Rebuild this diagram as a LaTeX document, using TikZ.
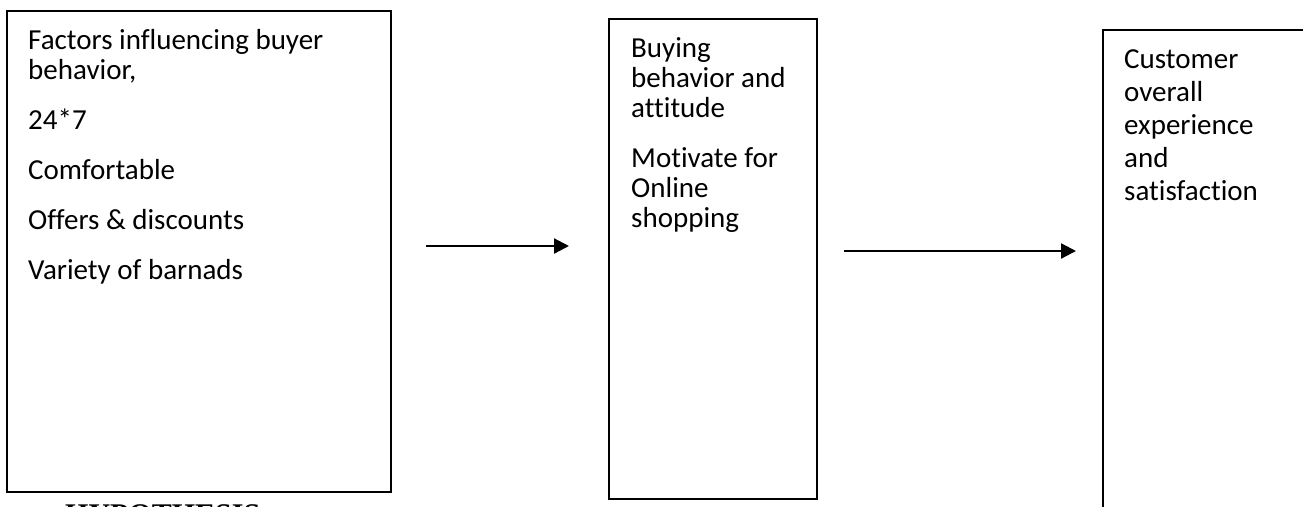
\documentclass[tikz,border=0pt]{standalone}
\usepackage{fontspec}
\setmainfont{Carlito}[Ligatures=CommonOff]
\newfontfamily\hypfont{Liberation Serif}
\usetikzlibrary{arrows.meta,positioning}
\newcommand{\paneltext}[1]{\parbox[t]{340pt}{\raggedright #1}}

\begin{document}
\begin{tikzpicture}[
    x=1pt, y=-1pt,
    panel/.style={
        draw,
        line width=1.8pt,
        anchor=north west,
        inner sep=0pt
    },
    txt/.style={anchor=base west, inner sep=0pt, font=\fontsize{29}{30}\selectfont},
    arrow/.style={-{Triangle[length=15pt,width=15pt]}, line width=2.2pt}
]
\useasboundingbox (0,0) rectangle (1303,506);

\node[panel, minimum width=384pt, minimum height=481pt] (factors) at (6,10) {};
\node[panel, minimum width=208pt, minimum height=480pt] (buying) at (608,18) {};
\node[panel, minimum width=230pt, minimum height=500pt] (customer) at (1102,29) {};

\node[txt] (factorstxt) at ([shift={(22,39)}]factors.north west)
  {\paneltext{Factors influencing buyer\\ behavior,\\[20pt] 24*7\\[20pt] Comfortable\\[20pt]
   Offers \& discounts\\[20pt] Variety of barnads}};
\node[txt] (buyingtxt) at ([shift={(23,39)}]buying.north west)
  {\paneltext{Buying\\ behavior and\\ attitude\\[20pt] Motivate for\\ Online\\ shopping}};
\node[txt, font=\fontsize{29}{33}\selectfont] (customertxt) at ([shift={(22,39)}]customer.north west)
  {\paneltext{Customer\\ overall\\ experience\\ and\\ satisfaction}};

\node[anchor=north west, inner sep=0pt, font=\hypfont\bfseries\fontsize{30}{36}\selectfont] (hyp) at (65,504) {HYPOTHESIS};

\coordinate (a1s) at (426,246);
\coordinate (a1e) at (569,246);
\coordinate (a2s) at (844,251);
\coordinate (a2e) at (1076,251);
\draw[arrow] (a1s) -- (a1e);
\draw[arrow] (a2s) -- (a2e);
\end{tikzpicture}
\end{document}
